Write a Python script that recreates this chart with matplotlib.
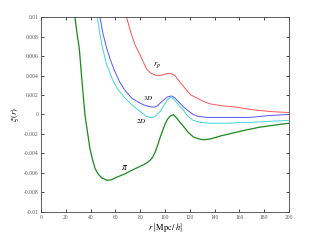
import matplotlib
matplotlib.use('Agg')
import matplotlib.pyplot as plt
import numpy as np

plt.rcParams['font.family'] = ['Liberation Serif', 'DejaVu Serif']
plt.rcParams['mathtext.fontset'] = 'stix'

# pi (line of sight) correlation
r_pi = [26.5, 27.4, 29, 30.9, 33.1, 35.5, 37.5, 39.5, 41.5, 43.5, 46, 49, 53, 57, 60, 63.7, 67.7,
        72, 77, 82, 85, 88, 90, 92, 94, 96, 98, 100, 102, 104, 106.7, 109, 111.5, 114.8, 118.5,
        122.8, 127, 131, 137, 145, 155, 165, 176.6, 188, 200]
xi_pi = [0.012, 0.010, 0.0084, 0.0068, 0.0034, -0.00005, -0.0018, -0.0035, -0.0046, -0.0055,
         -0.0061, -0.0065, -0.00675, -0.0067, -0.0065, -0.0063, -0.0061, -0.0058, -0.0055, -0.0052,
         -0.0050, -0.0047, -0.0044, -0.0039, -0.0032, -0.0024, -0.0017, -0.0010, -0.0005, -0.0002,
         0.0, -0.0003, -0.0007, -0.0012, -0.0018, -0.0023, -0.0025, -0.0026, -0.0025, -0.0022,
         -0.0019, -0.0016, -0.0013, -0.0011, -0.0009]

# 3D
r_3d = [46.5, 47.6, 50, 53, 56, 59, 63.2, 67, 73, 78, 82.5, 87.9, 91.4, 94, 96, 99, 102, 105.4,
        108, 111, 114.8, 118.5, 122.8, 127, 133.6, 145, 168.6, 185, 200]
xi_3d = [0.0115, 0.010, 0.0083, 0.0068, 0.0056, 0.0046, 0.0034, 0.0026, 0.0017, 0.0013, 0.0010,
         0.0008, 0.00074, 0.0009, 0.00115, 0.0015, 0.0018, 0.0019, 0.0017, 0.0013, 0.0008, 0.0004,
         0.0, -0.0002, -0.0003, -0.0003, -0.0003, -0.0001, 0.0]

# 2D
r_2d = [44.5, 45.4, 47.5, 49.7, 53, 58.3, 62, 67.7, 74, 80, 85, 89.3, 92, 96, 99, 102, 104.6,
        107, 110, 114.8, 118.5, 122.8, 128, 136, 149, 170, 200]
xi_2d = [0.0115, 0.010, 0.0083, 0.0068, 0.0051, 0.0034, 0.0026, 0.0017, 0.0009, 0.0003, -0.0002,
         -0.00033, -0.0002, 0.0003, 0.0009, 0.0015, 0.0018, 0.0016, 0.0011, 0.00046, -0.0002,
         -0.0006, -0.0008, -0.0009, -0.0009, -0.0008, -0.0006]

# r_p (transverse)
r_rp = [68, 69, 71, 73, 76, 80, 85, 88, 91, 93.3, 96, 99, 102, 105, 108, 111, 114.8, 118, 121,
        125.6, 130, 136, 145, 155, 170, 185, 200]
xi_rp = [0.0115, 0.010, 0.0091, 0.0082, 0.0071, 0.0061, 0.0047, 0.0043, 0.0041, 0.0040, 0.0040,
         0.0041, 0.0042, 0.0042, 0.0040, 0.0035, 0.0029, 0.0024, 0.0020, 0.0017, 0.0014, 0.0011,
         0.0009, 0.0008, 0.0005, 0.0003, 0.0002]

xticks = [0, 20, 40, 60, 80, 100, 120, 140, 160, 180, 200]
yticks = [-0.01, -0.008, -0.006, -0.004, -0.002, 0, 0.002, 0.004, 0.006, 0.008, 0.01]
ylabels = ['-0.01', '-0.008', '-0.006', '-0.004', '-0.002', '0',
           '0.002', '0.004', '0.006', '0.008', '0.01']

fig = plt.figure(figsize=(3.2, 2.4), dpi=100)
ax = fig.add_axes([0.128, 0.117, 0.775, 0.812])

ax.plot(r_rp, xi_rp, color='#ff5555', lw=0.7)
ax.plot(r_3d, xi_3d, color='#5555ff', lw=0.7)
ax.plot(r_2d, xi_2d, color='#40d8d8', lw=0.7)
ax.plot(r_pi, xi_pi, color='#1a8a1a', lw=0.9)

ax.text(93.8, 0.0051, r'$r_p$', fontsize=6, ha='center', va='center')
ax.text(86.6, 0.0017, r'$3D$', fontsize=5, ha='center', va='center')
ax.text(80.6, -0.0007, r'$2D$', fontsize=5, ha='center', va='center')
ax.text(67.7, -0.0054, r'$\pi$', fontsize=7, ha='center', va='center')

ax.set_xlim(0, 200)
ax.set_ylim(-0.01, 0.01)
ax.set_xticks(xticks)
ax.set_xticklabels([str(t) for t in xticks])
ax.set_yticks(yticks)
ax.set_yticklabels(ylabels)
ax.tick_params(direction='in', length=2, width=0.5, labelsize=4, labelcolor='#555555',
               top=True, right=True, pad=2)
for s in ax.spines.values():
    s.set_linewidth(0.6)
    s.set_color('#444444')

ax.set_xlabel(r'$r\;\left[\mathrm{Mpc}\,/\,h\right]$', fontsize=6, labelpad=1)
ax.set_ylabel(r'$\xi\,(r)$', fontsize=6, labelpad=2)

fig.savefig('out.png', dpi=100)
